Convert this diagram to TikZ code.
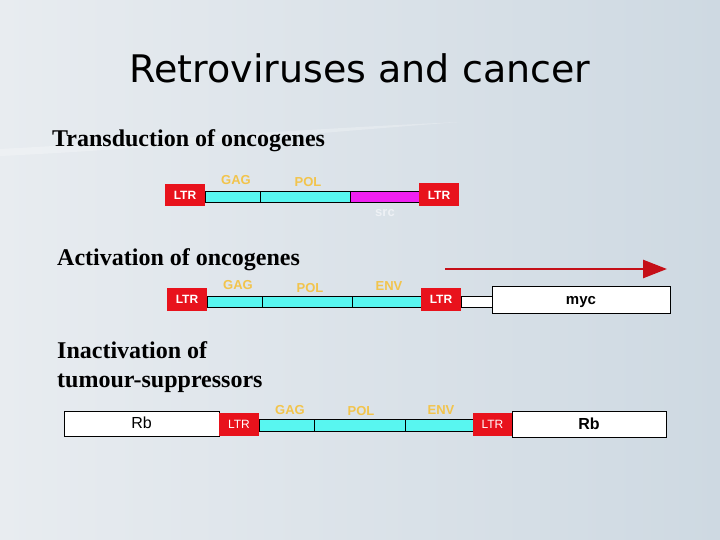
\documentclass[tikz,border=0pt]{standalone}
\usepackage{fontspec}
\setmainfont{Liberation Serif}
\newfontfamily\titlefont{DejaVu Sans}
\newfontfamily\labelfont{Liberation Sans}
\usetikzlibrary{arrows.meta}

\definecolor{bgleft}{RGB}{232,236,240}
\definecolor{bgright}{RGB}{206,217,226}
\definecolor{ltrred}{RGB}{232,18,28}
\definecolor{genecyan}{RGB}{88,246,240}
\definecolor{srcmag}{RGB}{240,32,240}
\definecolor{genegold}{RGB}{242,196,76}
\definecolor{srcgrey}{RGB}{238,241,245}

\tikzset{
  ltrbox/.style={fill=ltrred, inner sep=0pt, outer sep=0pt, minimum width=40pt, minimum height=23pt,
    text=white, font=\labelfont\bfseries\fontsize{12}{14}\selectfont},
  seg/.style={draw=black, line width=0.8pt, fill=genecyan, inner sep=0pt, outer sep=0pt, minimum height=11pt},
  hostbox/.style={draw=black, line width=0.9pt, fill=white, inner sep=0pt, outer sep=0pt, minimum height=25pt,
    text height=11pt, text depth=1pt},
  genelabel/.style={text=genegold, font=\labelfont\bfseries\fontsize{13}{15}\selectfont, inner sep=0pt},
  heading/.style={anchor=base west, inner sep=0pt, font=\bfseries\fontsize{24}{28}\selectfont}
}

\begin{document}
\begin{tikzpicture}[x=1pt, y=-1pt]
    % Background
    \shade[left color=bgleft, right color=bgright] (0,0) rectangle (720,540);
    \fill[white, opacity=0.25] (0,149) .. controls (150,141) and (300,129) .. (460,122)
        .. controls (300,134) and (150,149) .. (0,156) -- cycle;
    \useasboundingbox (0,0) rectangle (720,540);

    % Title
    \node[anchor=base, inner sep=0pt, font=\titlefont\fontsize{38}{44}\selectfont] (title) at (360,83) {Retroviruses and cancer};

    % Transduction
    \node[heading] (headA) at (52,147) {Transduction of oncogenes};
    \node[ltrbox, minimum height=22pt] (ltrA) at (185,195) {LTR};
    \node[seg, minimum width=55pt] (gagA) at (232.5,196.5) {};
    \node[seg, minimum width=90pt] (polA) at (305,196.5) {};
    \node[seg, fill=srcmag, minimum width=70pt] (srcA) at (385,196.5) {};
    \node[ltrbox] (ltrB) at (439,195) {LTR};
    \node[genelabel] (gagAl) at (236,180) {GAG};
    \node[genelabel] (polAl) at (308,182) {POL};
    \node[genelabel, text=srcgrey] (srcAl) at (385,213) {src};

    % Activation
    \node[heading] (headB) at (57,265) {Activation of oncogenes};
    \node[ltrbox] (ltrC) at (187,299.5) {LTR};
    \node[seg, minimum width=55pt] (gagB) at (234.5,301.5) {};
    \node[seg, minimum width=90pt] (polB) at (307,301.5) {};
    \node[seg, minimum width=69pt] (envB) at (386.5,301.5) {};
    \node[ltrbox] (ltrD) at (441,299.5) {LTR};
    \node[seg, fill=white, minimum width=31pt] (flankB) at (476.5,301.5) {};
    \node[hostbox, minimum width=178pt, minimum height=27pt, font=\labelfont\bfseries\fontsize{15}{17}\selectfont] (myc) at (581,299.5) {myc};
    \node[genelabel] (gagBl) at (238,285) {GAG};
    \node[genelabel] (polBl) at (310,288) {POL};
    \node[genelabel] (envBl) at (389,286) {ENV};
    \coordinate (txstart) at (445,269);
    \coordinate (txend) at (667,269);
    \draw[ltrred!85!black, line width=2.6pt, -{Triangle[length=24pt, width=18pt]}] (txstart) -- (txend);

    % Inactivation
    \node[heading] (headC) at (57,358) {Inactivation of};
    \node[heading] (headD) at (57,387) {tumour-suppressors};
    \node[hostbox, minimum width=155pt, font=\labelfont\fontsize{16}{18}\selectfont] (rbA) at (141.5,423.5) {Rb};
    \node[ltrbox, font=\labelfont\fontsize{12}{14}\selectfont] (ltrE) at (239,424.5) {LTR};
    \node[seg, minimum width=55pt, minimum height=12pt] (gagC) at (286.5,425) {};
    \node[seg, minimum width=91pt, minimum height=12pt] (polC) at (359.5,425) {};
    \node[seg, minimum width=69pt, minimum height=12pt] (envC) at (439.5,425) {};
    \node[ltrbox, minimum width=39pt, font=\labelfont\fontsize{12}{14}\selectfont] (ltrF) at (492.5,424.5) {LTR};
    \node[hostbox, minimum width=154pt, minimum height=26pt, font=\labelfont\bfseries\fontsize{16}{18}\selectfont] (rbB) at (589,424) {Rb};
    \node[genelabel] (gagCl) at (290,410) {GAG};
    \node[genelabel] (polCl) at (361,411) {POL};
    \node[genelabel] (envCl) at (441,410) {ENV};
\end{tikzpicture}
\end{document}
